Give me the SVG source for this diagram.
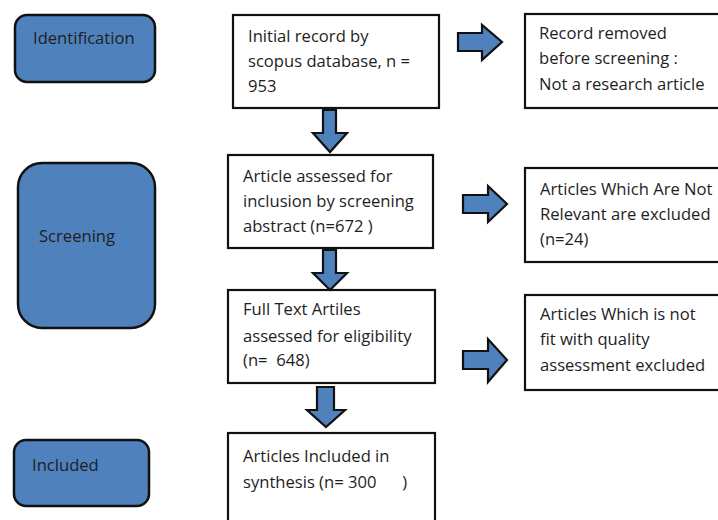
<svg xmlns="http://www.w3.org/2000/svg" width="718" height="520" viewBox="0 0 718 520">
<style>
.stage{fill:#4F81BD;stroke:#111;stroke-width:2.5}
.box{fill:#fff;stroke:#111;stroke-width:2.2}
.arr{fill:#4F81BD;stroke:#111;stroke-width:2.2;stroke-linejoin:miter}
text{font-family:"Open Sans","Liberation Sans",sans-serif;font-size:16.6px;fill:#1e1e1e;white-space:pre}
</style>
<rect width="718" height="520" fill="#fff"/>
<g id="identification"><rect class="stage" x="15" y="15" width="140" height="67" rx="12"/><text x="33" y="44">Identification</text></g>
<g id="screening"><rect class="stage" x="18" y="163" width="137" height="165" rx="24"/><text x="39" y="242">Screening</text></g>
<g id="included"><rect class="stage" x="14" y="440" width="135" height="66" rx="12"/><text x="32" y="471">Included</text></g>
<g id="initial"><rect class="box" x="233" y="15" width="206" height="93"/><text x="248" y="42">Initial record by</text><text x="248" y="67">scopus database, n =</text><text x="248" y="92">953</text></g>
<g id="removed"><rect class="box" x="525" y="14" width="200" height="94"/><text x="539" y="39">Record removed</text><text x="539" y="64">before screening :</text><text x="539" y="90">Not a research article</text></g>
<g id="abstract"><rect class="box" x="228" y="155" width="205" height="93"/><text x="243" y="182">Article assessed for</text><text x="243" y="207">inclusion by screening</text><text x="243" y="232">abstract (n=672 )</text></g>
<g id="notrelevant"><rect class="box" x="525" y="168" width="200" height="94"/><text x="540" y="195">Articles Which Are Not</text><text x="540" y="220">Relevant are excluded</text><text x="540" y="245">(n=24)</text></g>
<g id="fulltext"><rect class="box" x="228" y="290" width="207" height="93"/><text x="243" y="315">Full Text Artiles</text><text x="243" y="342">assessed for eligibility</text><text x="243" y="366">(n=  648)</text></g>
<g id="quality"><rect class="box" x="525" y="295" width="200" height="95"/><text x="540" y="320">Articles Which is not</text><text x="540" y="345">fit with quality</text><text x="540" y="371">assessment excluded</text></g>
<g id="synthesis"><rect class="box" x="228" y="433" width="207" height="100"/><text x="243" y="462">Articles Included in</text><text x="243" y="488">synthesis (n= 300      )</text></g>
<g id="connectors">
<polygon class="arr" points="323,110 336,110 336,133 347,133 330,152 313,133 323,133"/>
<polygon class="arr" points="323,250 336,250 336,273 347,273 330,290 313,273 323,273"/>
<polygon class="arr" points="317,387 334,387 334,410 345,410 326,427 307,410 317,410"/>
<polygon class="arr" points="458,33 482,33 482,25 502,42 482,60 482,51 458,51"/>
<polygon class="arr" points="463,195 488,195 488,186 507,204 488,222 488,213 463,213"/>
<polygon class="arr" points="463,351 488,351 488,339 507,360 488,382 488,369 463,369"/>
</g>
</svg>
